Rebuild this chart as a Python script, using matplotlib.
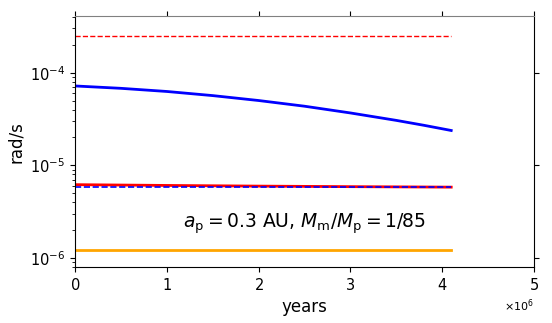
import numpy as np
import matplotlib
matplotlib.use("Agg")
import matplotlib.pyplot as plt

# time in years
t_blue = [0, 0.5e6, 1.0e6, 1.5e6, 2.0e6, 2.5e6, 3.0e6, 3.5e6, 3.8e6, 4.1e6]
omega_blue = [7.19e-5, 6.78e-5, 6.27e-5, 5.66e-5, 5.01e-5, 4.35e-5, 3.68e-5, 3.06e-5, 2.71e-5, 2.38e-5]

t_red = [0, 1.0e6, 2.0e6, 3.0e6, 4.1e6]
omega_red = [6.2e-6, 6.08e-6, 5.98e-6, 5.9e-6, 5.83e-6]

t_flat = [0, 4.1e6]
omega_red_dash = [2.48e-4, 2.48e-4]
omega_blue_dash = [5.83e-6, 5.83e-6]
omega_orange = [1.21e-6, 1.21e-6]

fig = plt.figure(figsize=(5.52, 3.23), dpi=100)
ax = fig.add_axes([0.136, 0.173, 0.831, 0.777])

ax.plot(t_flat, omega_red_dash, color="red", ls="--", lw=1)
ax.plot(t_blue, omega_blue, color="blue", lw=2)
ax.plot(t_red, omega_red, color="red", lw=2)
ax.plot(t_flat, omega_blue_dash, color="blue", ls="--", lw=1.2)
ax.plot(t_flat, omega_orange, color="orange", lw=2)

ax.set_yscale("log")
ax.set_xlim(0, 5e6)
ax.set_ylim(8e-7, 4.07e-4)
ax.ticklabel_format(axis="x", style="sci", scilimits=(0, 0), useMathText=True)
ax.xaxis.get_offset_text().set_fontsize(8)

ax.set_xlabel("years", fontsize=12)
ax.set_ylabel("rad/s", fontsize=12)
ax.tick_params(labelsize=10.5)
ax.tick_params(which="major", top=True, right=True)
ax.tick_params(which="minor", right=False, top=False)
ax.spines["top"].set_color("0.5")

ax.text(0.235, 0.171, r"$a_{\rm p} = 0.3$ AU, $M_{\rm m}/M_{\rm p} = 1/85$",
        transform=ax.transAxes, fontsize=13.5, va="center", ha="left")

fig.savefig("out.png", dpi=100)
